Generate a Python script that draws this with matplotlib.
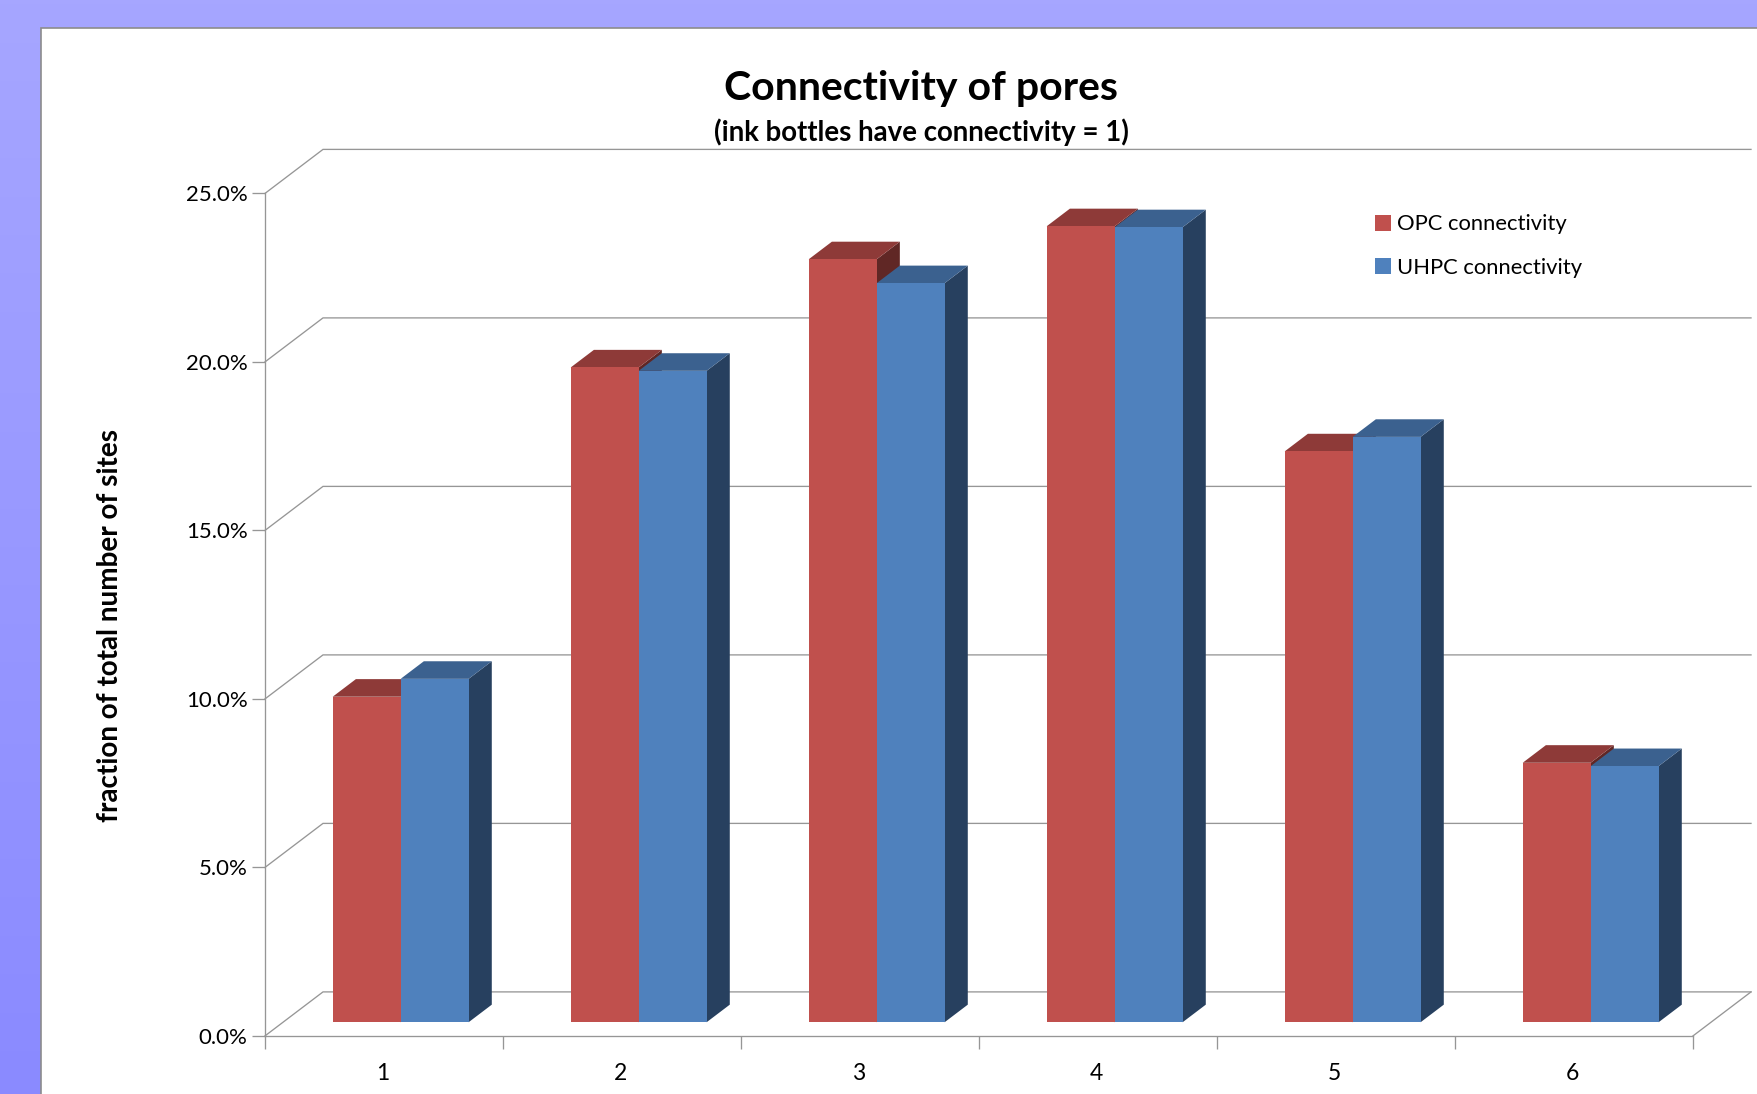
#!/usr/bin/env python3
"""Connectivity of pores: Excel-style 3D clustered columns, OPC vs UHPC."""

import matplotlib
matplotlib.use("Agg")
import matplotlib.pyplot as plt
import numpy as np
from matplotlib.patches import Patch, Rectangle

categories = ["1", "2", "3", "4", "5", "6"]
opc_values = [9.66, 19.43, 22.64, 23.62, 16.94, 7.70]
uhpc_values = [10.19, 19.33, 21.93, 23.59, 17.37, 7.60]
y_ticks = [0, 5, 10, 15, 20, 25]
y_tick_labels = ["0.0%", "5.0%", "10.0%", "15.0%", "20.0%", "25.0%"]

W, H = 1757, 1094
DPI = 100
FONT = ["Lato", "DejaVu Sans"]
GRID = "#969696"

# axes box of the front plane, in pixels from the top-left corner
LEFT, RIGHT, TOP, BOTTOM = 265.0, 1693.0, 193.4, 1035.9

# oblique depth of the chart box, in data units
DEPTH_X = 58 / ((RIGHT - LEFT) / 6)
DEPTH_Y = 44 / ((BOTTOM - TOP) / 25)
BAR_SHIFT_X = 0.33    # where the columns start inside the box depth
BAR_SHIFT_Y = 0.31
BAR_DEPTH = 0.40      # how much of the depth they take
BAR_W = 0.2855
CENTER_NUDGE = -0.0105

RED = ("#C0504D", "#8E3A38", "#602725")   # front, top, side
BLUE = ("#4F81BD", "#3B618F", "#27405F")

plt.rcParams["font.family"] = FONT


def px_box(left, top, right, bottom):
    return [left / W, 1 - bottom / H, (right - left) / W, (bottom - top) / H]


def draw_column(ax, x0, value, colors, z):
    """One box: side and top faces pushed back along the oblique axis."""
    front, top, side = colors
    x1 = x0 + BAR_W
    sx = BAR_SHIFT_X * DEPTH_X
    sy = BAR_SHIFT_Y * DEPTH_Y
    dx = BAR_DEPTH * DEPTH_X
    dy = BAR_DEPTH * DEPTH_Y
    ax.fill([x1 + sx, x1 + sx + dx, x1 + sx + dx, x1 + sx],
            [sy, sy + dy, value + sy + dy, value + sy],
            color=side, lw=0, zorder=z, clip_on=False)
    ax.fill([x0 + sx, x1 + sx, x1 + sx + dx, x0 + sx + dx],
            [value + sy, value + sy, value + sy + dy, value + sy + dy],
            color=top, lw=0, zorder=z, clip_on=False)
    ax.bar(x0 + sx, value, width=BAR_W, bottom=sy, align="edge",
           color=front, lw=0, zorder=z + 0.1, clip_on=False)


fig = plt.figure(figsize=(W / DPI, H / DPI), dpi=DPI)

# periwinkle backdrop with the white chart panel on top
bg = fig.add_axes([0, 0, 1, 1], zorder=0)
bg.imshow(np.linspace(0, 1, 256).reshape(-1, 1), aspect="auto", extent=[0, W, H, 0],
          cmap=matplotlib.colors.LinearSegmentedColormap.from_list("bg", ["#A6A6FF", "#8A8AFF"]))
bg.add_patch(Rectangle((41, 28), W, H, facecolor="white", edgecolor="#8C8C8C", lw=1.2))
bg.set_xlim(0, W)
bg.set_ylim(H, 0)
bg.axis("off")

ax = fig.add_axes(px_box(LEFT, TOP, RIGHT, BOTTOM), zorder=1)
ax.patch.set_alpha(0)
ax.set_xlim(0, len(categories))
ax.set_ylim(0, 25)

# back wall gridlines and their diagonals down the side wall
for v in y_ticks:
    ax.plot([0, DEPTH_X, len(categories) + DEPTH_X], [v, v + DEPTH_Y, v + DEPTH_Y],
            color=GRID, lw=0.95, zorder=1, clip_on=False, solid_joinstyle="miter")
ax.plot([len(categories), len(categories) + DEPTH_X], [0, DEPTH_Y],
        color=GRID, lw=0.95, zorder=1, clip_on=False)

for i in range(len(categories)):
    center = i + 0.5 + CENTER_NUDGE
    draw_column(ax, center - BAR_W, opc_values[i], RED, 3 + i)
    draw_column(ax, center, uhpc_values[i], BLUE, 3.5 + i)

for side in ("top", "right"):
    ax.spines[side].set_visible(False)
for side in ("left", "bottom"):
    ax.spines[side].set_color(GRID)
    ax.spines[side].set_linewidth(0.95)

ax.set_yticks(y_ticks)
ax.set_yticklabels(y_tick_labels, fontsize=16, color="black")
ax.tick_params(axis="y", length=9.5, width=0.95, color=GRID, pad=3)
ax.set_xticks(np.arange(len(categories) + 1))
ax.set_xticklabels([])
ax.tick_params(axis="x", which="major", length=9.5, width=0.95, color=GRID)
ax.set_xticks(np.arange(len(categories)) + 0.493, minor=True)
ax.set_xticklabels(categories, minor=True, fontsize=16.5, color="black")
ax.tick_params(axis="x", which="minor", length=0, pad=19.5)

fig.text(921 / W, 1 - 88.5 / H, "Connectivity of pores", fontsize=29.5, fontweight="bold",
         ha="center", va="center")
fig.text(921 / W, 1 - 132 / H, "(ink bottles have connectivity = 1)", fontsize=19.9,
         fontweight="bold", ha="center", va="center")
fig.text(110.5 / W, 1 - 625 / H, "fraction of total number of sites", fontsize=20.1,
         fontweight="bold", rotation=90, ha="center", va="center")

handles = [Patch(facecolor=RED[0], label="OPC connectivity"),
           Patch(facecolor=BLUE[0], label="UHPC connectivity")]
fig.legend(handles=handles, loc="upper left", bbox_to_anchor=(1375 / W, 1 - 214.5 / H),
           frameon=False, fontsize=15.8, handlelength=0.73, handleheight=0.73,
           handletextpad=0.27, labelspacing=1.06, borderpad=0, borderaxespad=0)

fig.savefig("out.png", dpi=DPI)
